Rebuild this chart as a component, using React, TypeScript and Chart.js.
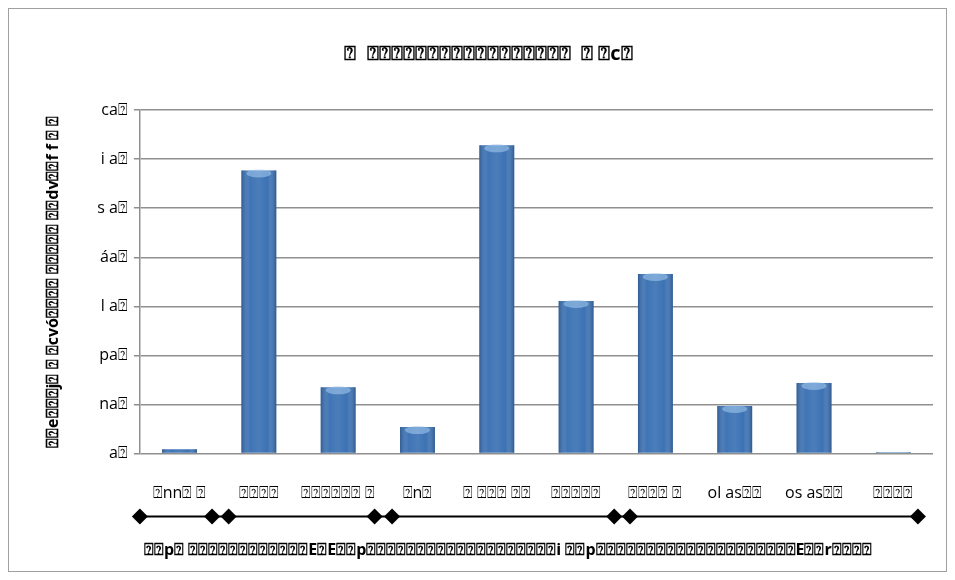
import { useEffect, useRef } from "react";
import { Chart, registerables } from "chart.js";

Chart.register(...registerables);

// Boxed question mark used for the characters the source font lacked
const B = "\u2370";

// Chart text
const chartTitle = `${B}  ${B}${B}${B}${B}${B}${B}${B}${B}${B}${B}${B}${B}${B}${B}${B}${B}${B}  ${B} ${B}c${B}`;
const valueAxisTitle = `${B}${B}e${B}${B}${B}j${B} ${B} ${B}cvó${B}${B}${B}${B} ${B}${B}${B}${B}${B} ${B}${B}dv${B}${B}f f ${B} ${B}`;
const categoryAxisTitle = ` ${B}${B}p${B} ${B}${B}${B}${B}${B}${B}${B}${B}${B}${B}${B}${B}E${B}E${B}${B}p${B}${B}${B}${B}${B}${B}${B}${B}${B}${B}${B}${B}${B}${B}${B}${B}${B}${B}${B}i ${B}${B}p${B}${B}${B}${B}${B}${B}${B}${B}${B}${B}${B}${B}${B}${B}${B}${B}${B}${B}${B}${B}E${B}${B}r${B}${B}${B}${B}`;

// Categories and bar values (percent)
const categories = [
  `${B}nn${B} ${B}`,
  `${B}${B}${B}${B}`,
  `${B}${B}${B}${B}${B}${B} ${B}`,
  `${B}n${B}`,
  `${B} ${B}${B}${B} ${B}${B}`,
  `${B}${B}${B}${B}${B}`,
  `${B}${B}${B}${B} ${B}`,
  `ol as${B}${B}`,
  `os as${B}${B}`,
  `${B}${B}${B}${B}`,
];
const shares = [0.9, 57.7, 13.5, 5.4, 62.8, 31.1, 36.6, 9.7, 14.4, 0.3];

// Value axis ticks
const tickValues = [0, 10, 20, 30, 40, 50, 60, 70];
const tickLabels = [`a${B}`, `na${B}`, `pa${B}`, `l a${B}`, `áa${B}`, `s a${B}`, `i a${B}`, `ca${B}`];

// Group bracket ends, in category-index units
const groupMarks = [-0.5, 0.41, 0.62, 2.46, 2.68, 5.48, 5.68, 9.31];

const FONT = "'Open Sans', Lato, sans-serif";

const barShading = {
  id: "barShading",
  afterDatasetDraw(chart: any, args: any) {
    if (args.index !== 0) return;
    const ctx = chart.ctx;
    const meta = chart.getDatasetMeta(0);
    ctx.save();
    meta.data.forEach((bar: any) => {
      const { x, y, base, width } = bar.getProps(["x", "y", "base", "width"], true);
      const left = x - width / 2;
      const h = base - y;
      if (h <= 0) return;
      const g = ctx.createLinearGradient(left, 0, left + width, 0);
      g.addColorStop(0, "rgba(25,55,100,0.4)");
      g.addColorStop(0.25, "rgba(255,255,255,0.02)");
      g.addColorStop(0.5, "rgba(255,255,255,0.08)");
      g.addColorStop(0.75, "rgba(255,255,255,0.0)");
      g.addColorStop(1, "rgba(25,55,100,0.45)");
      ctx.fillStyle = g;
      ctx.fillRect(left, y, width, h);
      if (h > 8) {
        ctx.fillStyle = "rgba(160,198,236,0.6)";
        ctx.beginPath();
        ctx.ellipse(x, y + 3, width / 2 - 5, 4, 0, 0, Math.PI * 2);
        ctx.fill();
      }
    });
    ctx.restore();
  },
};

const groupBracket = {
  id: "groupBracket",
  afterDraw(chart: any) {
    const ctx = chart.ctx;
    const xs = chart.scales.x;
    const yLine = chart.chartArea.bottom + 63;
    const px = groupMarks.map((v) => xs.getPixelForValue(v));
    ctx.save();
    ctx.strokeStyle = "#000";
    ctx.lineWidth = 2;
    ctx.beginPath();
    ctx.moveTo(px[0], yLine);
    ctx.lineTo(px[px.length - 1], yLine);
    ctx.stroke();
    ctx.fillStyle = "#000";
    const r = 8;
    px.forEach((p) => {
      ctx.beginPath();
      ctx.moveTo(p, yLine - r);
      ctx.lineTo(p + r, yLine);
      ctx.lineTo(p, yLine + r);
      ctx.lineTo(p - r, yLine);
      ctx.closePath();
      ctx.fill();
    });
    ctx.restore();
  },
};

export default function App() {
  const ref = useRef<HTMLCanvasElement | null>(null);

  useEffect(() => {
    if (!ref.current) return;
    const chart = new Chart(ref.current, {
      type: "bar",
      data: {
        labels: categories,
        datasets: [
          {
            data: shares,
            backgroundColor: "#3C72B4",
            borderWidth: 0,
            barPercentage: 0.44,
            categoryPercentage: 1,
          },
        ],
      },
      options: {
        animation: false,
        responsive: true,
        maintainAspectRatio: false,
        layout: { padding: { left: 35, right: 13, top: 0, bottom: 11 } },
        plugins: {
          legend: { display: false },
          tooltip: { enabled: false },
          title: {
            display: true,
            text: chartTitle,
            color: "#000",
            font: { family: FONT, size: 20, weight: "bold" },
            padding: { top: 33, bottom: 44 },
          },
        },
        scales: {
          x: {
            grid: { display: false, tickLength: 8 },
            border: { display: false },
            ticks: {
              color: "#000",
              font: { family: FONT, size: 16 },
              padding: 22,
              maxRotation: 0,
              autoSkip: false,
            },
            title: {
              display: true,
              text: categoryAxisTitle,
              align: "start",
              color: "#000",
              font: { family: FONT, size: 16, weight: "bold" },
              padding: { top: 16, bottom: 0 },
            },
          },
          y: {
            min: 0,
            max: 70,
            afterBuildTicks(scale: any) {
              scale.ticks = tickValues.map((v) => ({ value: v }));
            },
            grid: { color: "#8f8f8f", lineWidth: 1.5, tickLength: 6 },
            border: { display: true, color: "#8f8f8f", width: 1.5 },
            ticks: {
              color: "#000",
              font: { family: FONT, size: 16 },
              padding: 6,
              callback: (v: any) => tickLabels[tickValues.indexOf(Number(v))],
            },
            title: {
              display: true,
              text: valueAxisTitle,
              color: "#000",
              font: { family: FONT, size: 16, weight: "bold" },
              padding: { top: 0, bottom: 28 },
            },
          },
        },
      },
      plugins: [barShading, groupBracket],
    });
    return () => chart.destroy();
  }, []);

  return (
    <div style={{ width: 937, height: 562, border: "1px solid #a0a0a0", position: "relative", background: "#fff" }}>
      <canvas ref={ref} />
    </div>
  );
}
